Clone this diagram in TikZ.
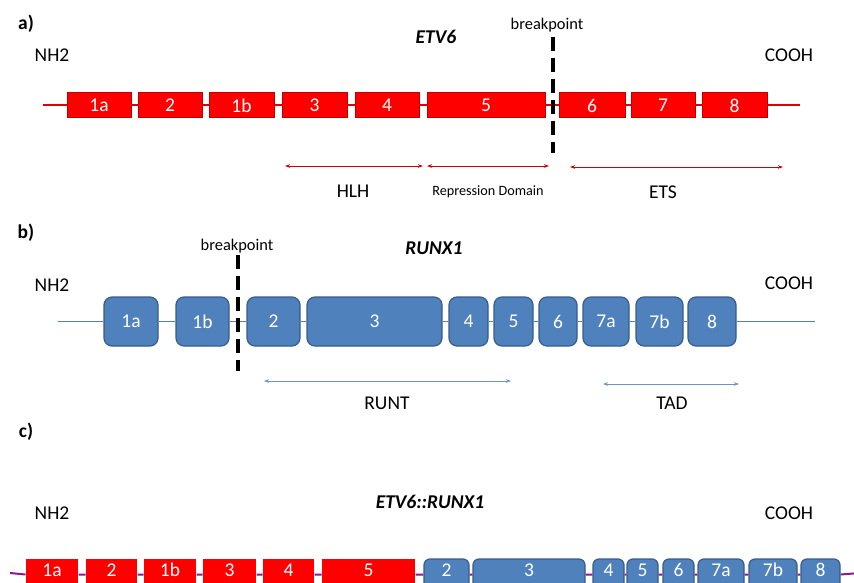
\documentclass[tikz,border=0pt]{standalone}
\usepackage{fontspec}
\setmainfont{Carlito}
\usetikzlibrary{arrows.meta}
\definecolor{exred}{HTML}{FF0000}
\definecolor{exredline}{HTML}{C00000}
\definecolor{exblue}{HTML}{4F81BD}
\definecolor{exblueline}{HTML}{385D8A}
\tikzset{
  lbl/.style={font=\fontsize{19.5}{22}\selectfont, inner sep=0pt},
  tag/.style={font=\fontsize{19.5}{22}\selectfont\bfseries, inner sep=0pt},
  gene/.style={font=\fontsize{19.5}{22}\selectfont\bfseries\itshape, inner sep=0pt},
  bp/.style={font=\fontsize{16.4}{19}\selectfont, inner sep=0pt},
  redex/.style={draw=exredline, line width=1pt, fill=exred, text=white, inner sep=0pt,
     font=\fontsize{19.5}{22}\selectfont},
  blueex/.style={draw=exblueline, line width=1.2pt, fill=exblue, text=white, inner sep=0pt,
     rounded corners=8pt, font=\fontsize{19.5}{22}\selectfont},
  raised/.style={text height=13.5pt, text depth=9.5pt},
  brk/.style={line width=4.5pt, dash pattern=on 14pt off 7pt},
  dom/.style={line width=1pt, {Stealth[length=5pt,width=3.5pt]}-{Stealth[length=5pt,width=3.5pt]}},
  redbackbone/.style={color=red!90!black, line width=2pt},
  bluebackbone/.style={color=exblue, line width=1.8pt},
  purplebackbone/.style={color=magenta!50!blue, line width=2pt},
  reddom/.style={dom, color=red!80!black},
  bluedom/.style={dom, color=exblue!85},
}
\begin{document}
\begin{tikzpicture}[x=1pt,y=-1pt]
\useasboundingbox (0,0) rectangle (854,583);
\clip (0,0) rectangle (854,583);
\fill[white] (0,0) rectangle (854,583);

% ---------------- a) ETV6 ----------------
\node[tag] (la) at (26,24) {a)};
\node[gene] (ga) at (436,37) {ETV6};
\node[lbl] (nha) at (52,55) {NH2};
\node[lbl] (coa) at (789,55) {COOH};
\coordinate (sa) at (43,105.5);
\coordinate (ea) at (800,105.5);
\foreach \n/\xa/\xb in {1a/67/131, 2/138/202, 1b/209/274, 3/282/347, 4/355/419, 5/427/545, 6/559/625, 7/631/695, 8/702/767}{
  \node[redex, minimum width={\xb-\xa}, minimum height=25] (a\n) at ({(\xa+\xb)/2},105.5) {\n};
}
\draw[redbackbone] (sa) -- (a1a.west) (a1a.east) -- (a2.west) (a2.east) -- (a1b.west)
  (a1b.east) -- (a3.west) (a3.east) -- (a4.west) (a4.east) -- (a5.west) (a5.east) -- (a6.west)
  (a6.east) -- (a7.west) (a7.east) -- (a8.west) (a8.east) -- (ea);
\node[bp] (bpa) at (547,25) {breakpoint};
\coordinate (bpa1) at (553,37);
\coordinate (bpa2) at (553,153);
\draw[brk] (bpa1) -- (bpa2);
\coordinate (hlh1) at (285,166); \coordinate (hlh2) at (423,166);
\coordinate (rd1) at (427,166); \coordinate (rd2) at (549,166);
\coordinate (ets1) at (570,167); \coordinate (ets2) at (783,167);
\draw[reddom] (hlh1) -- (hlh2);
\draw[reddom] (rd1) -- (rd2);
\draw[reddom] (ets1) -- (ets2);
\node[lbl] (thlh) at (353,191) {HLH};
\node[font=\fontsize{14.2}{17}\selectfont, inner sep=0pt] (trd) at (488,192) {Repression Domain};
\node[lbl] (tets) at (663,192) {ETS};

% ---------------- b) RUNX1 ----------------
\node[tag] (lb) at (26,233) {b)};
\node[bp] (bpb) at (237,246) {breakpoint};
\node[gene] (gb) at (434,248) {RUNX1};
\node[lbl] (nhb) at (52,285) {NH2};
\node[lbl] (cob) at (789,283) {COOH};
\coordinate (sb) at (58,321.5);
\coordinate (eb) at (815,321.5);
\foreach \n/\xa/\xb in {1a/104/158, 1b/176/229, 2/247/300, 3/307/442, 4/449/488, 5/494/533, 6/539/577, 7a/583/629, 7b/636/683, 8/688/736}{
  \node[blueex, minimum width={\xb-\xa}, minimum height=49] (b\n) at ({(\xa+\xb)/2},321.5) {\n};
}
\draw[bluebackbone] (sb) -- (b1a.west) (b1a.east) -- (b1b.west) (b1b.east) -- (b2.west)
  (b2.east) -- (b3.west) (b3.east) -- (b4.west) (b4.east) -- (b5.west) (b5.east) -- (b6.west)
  (b6.east) -- (b7a.west) (b7a.east) -- (b7b.west) (b7b.east) -- (b8.west) (b8.east) -- (eb);
\coordinate (bpb1) at (238,255);
\coordinate (bpb2) at (238,371);
\draw[brk] (bpb1) -- (bpb2);
\coordinate (runt1) at (264,381); \coordinate (runt2) at (511,381);
\coordinate (tad1) at (603,384); \coordinate (tad2) at (739,384);
\draw[bluedom] (runt1) -- (runt2);
\draw[bluedom] (tad1) -- (tad2);
\node[lbl] (trunt) at (387,403) {RUNT};
\node[lbl] (ttad) at (672,403) {TAD};

% ---------------- c) ETV6::RUNX1 ----------------
\node[tag] (lc) at (26,432) {c)};
\node[gene] (gc) at (430,502) {ETV6::RUNX1};
\node[lbl] (nhc) at (52,513) {NH2};
\node[lbl] (coc) at (789,513) {COOH};
\coordinate (sc) at (10,573);
\coordinate (ec) at (860,573);
\foreach \n/\xa/\xb/\t in {1a/26/78/1a, 2/86/137/2, 1b/144/196/1b, 3/203/256/3, 4/263/314/4, 5/322/415/5}{
  \node[redex, draw=none, raised, minimum width={\xb-\xa}, minimum height=31] (c\n) at ({(\xa+\xb)/2},574.5) {\t};
}
\foreach \n/\xa/\xb/\t in {r2/424/469/2, r3/473/585/3, r4/593/624/4, r5/627/658/5, r6/663/694/6, r7a/698/744/7a, r7b/749/797/7b, r8/801/840/8}{
  \node[blueex, raised, rounded corners=6pt, minimum width={\xb-\xa}, minimum height=31] (c\n) at ({(\xa+\xb)/2},574.5) {\t};
}
\draw[purplebackbone] (sc) -- (c1a.west) (c1a.east) -- (c2.west) (c2.east) -- (c1b.west)
  (c1b.east) -- (c3.west) (c3.east) -- (c4.west) (c4.east) -- (c5.west) (c5.east) -- (cr2.west)
  (cr2.east) -- (cr3.west) (cr3.east) -- (cr4.west) (cr4.east) -- (cr5.west) (cr5.east) -- (cr6.west)
  (cr6.east) -- (cr7a.west) (cr7a.east) -- (cr7b.west) (cr7b.east) -- (cr8.west) (cr8.east) -- (ec);
\end{tikzpicture}
\end{document}
